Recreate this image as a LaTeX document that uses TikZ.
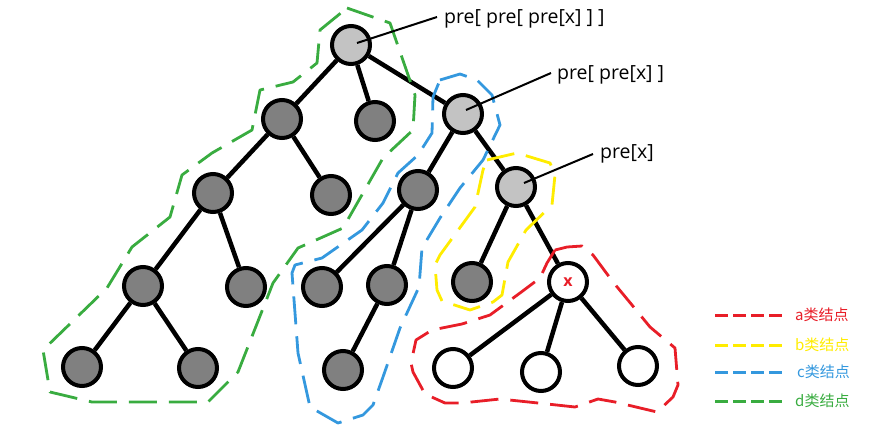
\documentclass[tikz,border=0pt]{standalone}
\usepackage{fontspec}
\setmainfont{Noto Sans CJK SC}
\newfontfamily\labfont{Open Sans}
\usetikzlibrary{backgrounds}
\definecolor{ndark}{RGB}{128,128,128}
\definecolor{nlight}{RGB}{195,195,195}
\definecolor{hred}{RGB}{232,30,40}
\definecolor{hyellow}{RGB}{255,236,0}
\definecolor{hblue}{RGB}{52,152,222}
\definecolor{hgreen}{RGB}{57,172,64}
\begin{document}
\begin{tikzpicture}[x=1pt,y=-1pt,
  tn/.style={circle,draw=black,line width=4pt,minimum size=38pt,inner sep=0pt},
  dk/.style={tn,fill=ndark},
  lg/.style={tn,fill=nlight},
  wt/.style={tn,fill=white},
  link/.style={line width=4.5pt},
  hull/.style={line width=2.8pt,dash pattern=on 28pt off 12pt,line join=round},
  labline/.style={line width=2pt},
  lab/.style={inner sep=0pt,font=\labfont\fontsize{19.5}{22}\selectfont},
  legline/.style={line width=3pt,dash pattern=on 13pt off 5pt},
  legtext/.style={inner sep=0pt,anchor=west,font=\fontsize{15}{17}\selectfont}]
\useasboundingbox (0,0) rectangle (889,437);

% nodes
\node[lg] (A) at (351,45) {};
\node[dk] (B) at (282,119) {};
\node[dk] (C) at (375,121) {};
\node[lg] (D) at (463,114) {};
\node[dk] (E) at (213,193) {};
\node[dk] (F) at (331,195) {};
\node[dk] (G) at (418,190) {};
\node[lg] (H) at (516,187) {};
\node[dk] (I) at (143,286) {};
\node[dk] (J) at (246,287) {};
\node[dk] (K) at (322,287) {};
\node[dk] (L) at (387,285) {};
\node[dk] (M) at (472,282) {};
\node[wt,text=hred,font=\labfont\fontsize{16}{16}\selectfont\bfseries] (X) at (568,282) {x};
\node[dk] (N) at (82,367) {};
\node[dk] (O) at (198,368) {};
\node[dk] (P) at (343,370) {};
\node[wt] (Q) at (453,368) {};
\node[wt] (R) at (541,372) {};
\node[wt] (S) at (638,366) {};

% edges
\begin{scope}[on background layer]
\draw[link] (A) -- (B);
\draw[link] (A) -- (C);
\draw[link] (A) -- (D);
\draw[link] (B) -- (E);
\draw[link] (B) -- (F);
\draw[link] (D) -- (G);
\draw[link] (D) -- (H);
\draw[link] (E) -- (I);
\draw[link] (E) -- (J);
\draw[link] (G) -- (K);
\draw[link] (G) -- (L);
\draw[link] (H) -- (M);
\draw[link] (H) -- (X);
\draw[link] (I) -- (N);
\draw[link] (I) -- (O);
\draw[link] (L) -- (P);
\draw[link] (X) -- (Q);
\draw[link] (X) -- (R);
\draw[link] (X) -- (S);
\end{scope}

% hulls
\draw[hull,hgreen] (347,8) -- (390,23) -- (415,95) -- (413,130) -- (383,158) -- (343,228) -- (298,248) -- (273,283) -- (238,372) -- (208,402) -- (92,402) -- (50,392) -- (43,350) -- (107,288) -- (132,247) -- (170,217) -- (182,175) -- (212,153) -- (252,130) -- (260,90) -- (293,82) -- (317,63) -- (320,30) -- cycle;
\draw[hull,hblue] (440,80) -- (460,74) -- (477,80) -- (492,95) -- (500,125) -- (483,160) -- (460,188) -- (440,218) -- (422,248) -- (419,287) -- (400,328) -- (383,377) -- (373,405) -- (363,415) -- (338,423) -- (310,407) -- (298,353) -- (292,273) -- (295,265) -- (322,258) -- (362,230) -- (383,203) -- (398,173) -- (418,155) -- (432,133) -- (433,97) -- cycle;
\draw[hull,hyellow] (487,160) -- (517,153) -- (550,163) -- (555,175) -- (552,205) -- (526,230) -- (508,262) -- (502,295) -- (493,302) -- (470,310) -- (442,301) -- (437,290) -- (435,265) -- (440,255) -- (475,207) -- (483,170) -- cycle;
\draw[hull,hred] (555,250) -- (567,247) -- (582,246) -- (593,255) -- (613,282) -- (632,305) -- (650,327) -- (675,348) -- (678,385) -- (673,397) -- (657,412) -- (615,402) -- (598,399) -- (575,407) -- (538,403) -- (500,399) -- (462,403) -- (445,403) -- (425,394) -- (413,372) -- (411,363) -- (416,340) -- (432,330) -- (462,324) -- (490,315) -- (520,293) -- (540,278) -- (547,263) -- cycle;

% labels
\node[lab,anchor=base west] (lA) at (444,23.5) {pre[ pre[ pre[x] ] ]};
\node[lab,anchor=base west] (lD) at (557,79) {pre[ pre[x] ]};
\node[lab,anchor=base west] (lH) at (600,158) {pre[x]};
\coordinate (pA) at (357,43);
\coordinate (pD) at (466,110);
\coordinate (pH) at (524,183);
\coordinate (eA) at (437,17);
\coordinate (eD) at (551,73);
\coordinate (eH) at (593,154);
\draw[labline] (pA) -- (eA);
\draw[labline] (pD) -- (eD);
\draw[labline] (pH) -- (eH);

% legend
\coordinate (ra) at (715,315); \coordinate (rb) at (782,315);
\coordinate (ya) at (715,345); \coordinate (yb) at (782,345);
\coordinate (ba) at (715,372); \coordinate (bb) at (782,372);
\coordinate (ga) at (715,401); \coordinate (gb) at (782,401);
\draw[legline,hred] (ra) -- (rb);
\draw[legline,hyellow] (ya) -- (yb);
\draw[legline,hblue] (ba) -- (bb);
\draw[legline,hgreen] (ga) -- (gb);
\node[legtext,text=hred] (ta) at (795,315) {a类结点};
\node[legtext,text=hyellow] (tb) at (795,345) {b类结点};
\node[legtext,text=hblue] (tc) at (797,372) {c类结点};
\node[legtext,text=hgreen] (td) at (795,401) {d类结点};
\end{tikzpicture}
\end{document}
